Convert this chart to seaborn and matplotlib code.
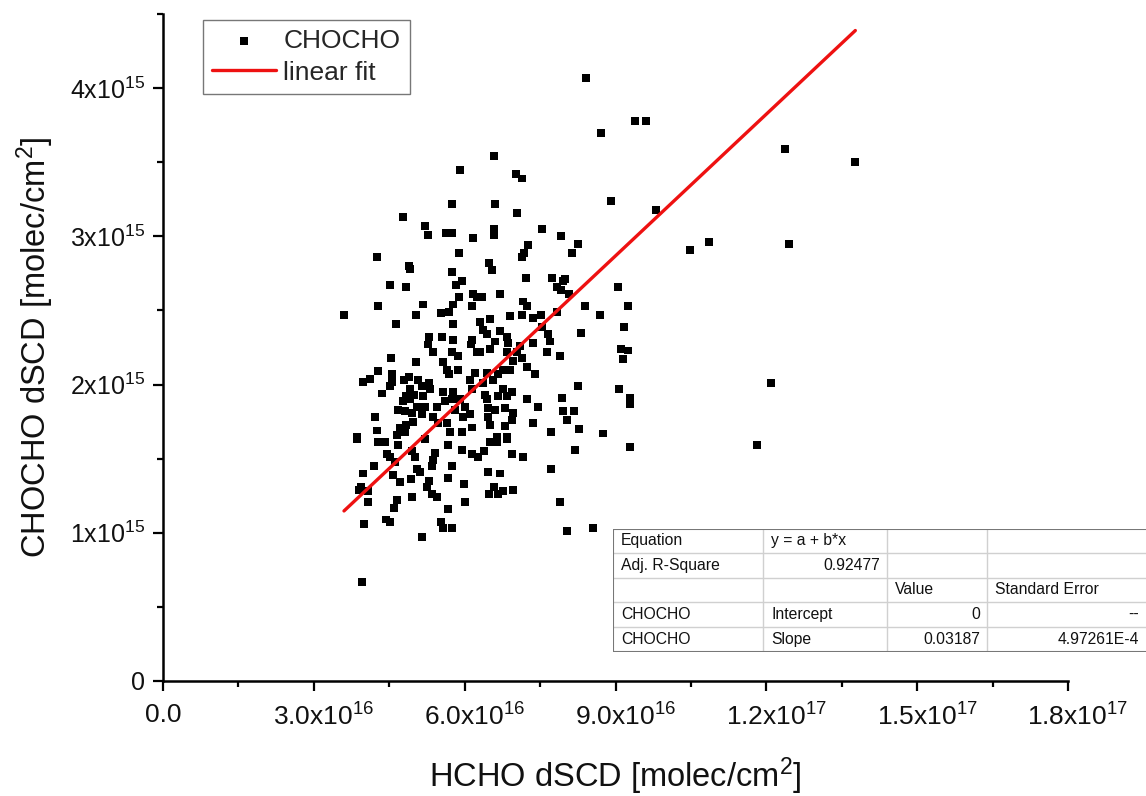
import numpy as np
import pandas as pd
import matplotlib
matplotlib.use("Agg")
import matplotlib.pyplot as plt
import matplotlib.transforms as mtransforms
import seaborn as sns

# ---------------- data (HCHO in 1e16, CHOCHO in 1e15 molec/cm2) ----------------
hcho_e16 = [8.41, 9.39, 9.61, 8.71, 8.91, 9.81, 12.37, 13.77, 10.48, 10.86, 12.45, 8.26, 8.14, 8.00, 8.08,
            9.05, 9.25, 8.39, 7.92, 8.69, 8.32, 9.17, 9.11, 9.25, 9.15, 7.90, 8.26, 9.07, 9.29, 9.29,
            7.94, 7.96, 8.18, 8.04, 8.28, 8.75, 8.20, 9.29, 12.09, 11.82, 7.90, 8.04, 8.55, 7.96, 7.92,
            6.94, 7.16, 7.72, 6.39, 6.50, 6.64, 6.84, 6.47, 6.70, 6.58, 6.49, 6.66, 6.76, 6.96,
            3.86, 4.28, 4.42, 4.67, 5.21, 5.67, 5.95, 6.15, 6.27, 4.46, 4.52, 4.95, 5.01, 4.62, 5.41,
            5.37, 5.35, 5.75, 4.20, 3.98, 4.58, 4.71, 5.05, 5.11, 4.93, 5.29, 5.25, 5.67, 5.99, 3.94,
            3.90, 4.08, 4.08, 4.65, 4.60, 4.95, 5.35, 5.45, 6.01, 5.67, 4.44, 4.52, 4.00, 5.53, 5.57,
            5.75, 5.15, 3.96,
            3.60, 4.28, 5.17, 5.03, 4.63, 5.53, 5.69, 5.77, 6.15, 5.77, 5.55, 5.29, 5.27, 5.37, 5.77,
            5.75, 5.87, 6.15, 6.13, 6.25, 4.54, 5.03, 5.57, 5.65, 5.87, 5.69, 4.28, 4.12, 3.98, 4.56,
            4.56, 4.79, 4.89, 5.07, 5.15, 5.29, 4.52, 5.31, 6.11, 6.21, 5.57, 5.77, 6.15, 4.36, 4.91,
            4.99, 4.83, 5.17, 4.77, 4.91, 5.05, 5.21, 5.45, 5.61, 5.75, 5.91, 5.81, 6.01, 6.11, 5.97,
            4.67, 4.81, 4.95, 5.15, 4.97, 4.83, 4.71, 5.37, 5.47, 5.65, 4.22, 4.26, 3.86, 4.65, 4.81,
            5.71, 5.95, 6.15,
            7.16, 7.24, 6.90, 6.50, 6.31, 7.14, 7.36, 7.52, 7.84, 6.37, 6.45, 6.70, 6.84, 7.54, 7.66,
            7.70, 6.60, 6.50, 6.31, 6.86, 7.10, 7.36, 6.84, 7.04, 7.14, 6.96, 7.64, 7.24, 7.40, 6.90,
            6.76, 6.66, 6.45, 6.56, 6.37, 6.76, 6.94, 6.66, 6.84, 6.41, 6.45, 6.47, 6.60, 6.80, 6.96,
            6.47, 6.94, 6.50, 6.80, 7.24, 7.46, 7.36, 7.72, 6.64, 6.84,
            5.91, 5.75, 4.77, 5.21, 5.27, 5.63, 5.75, 6.17, 5.89, 4.26, 4.89, 4.91, 5.75, 5.95, 5.83,
            4.52, 4.83, 5.89, 6.17, 6.25,
            6.58, 7.02, 7.14, 6.60, 7.04, 6.58, 6.58, 7.54, 7.26, 7.18, 7.14, 6.48, 6.54, 7.22, 7.74,
            7.84, 6.35, 6.70]

chocho_e15 = [4.07, 3.78, 3.78, 3.70, 3.24, 3.18, 3.59, 3.50, 2.91, 2.96, 2.95, 2.95, 2.89, 2.71, 2.61,
              2.66, 2.53, 2.53, 3.00, 2.47, 2.35, 2.39, 2.24, 2.23, 2.17, 2.19, 1.99, 1.97, 1.91, 1.87,
              1.91, 1.82, 1.82, 1.76, 1.70, 1.67, 1.56, 1.58, 2.01, 1.59, 1.21, 1.01, 1.03, 2.70, 2.64,
              1.53, 1.51, 1.43, 1.55, 1.61, 1.61, 1.63, 1.41, 1.40, 1.31, 1.26, 1.26, 1.28, 1.29,
              1.63, 1.61, 1.61, 1.59, 1.63, 1.59, 1.56, 1.53, 1.51, 1.53, 1.51, 1.55, 1.51, 1.48, 1.54,
              1.49, 1.45, 1.45, 1.45, 1.40, 1.39, 1.34, 1.43, 1.41, 1.36, 1.35, 1.31, 1.37, 1.33, 1.31,
              1.29, 1.28, 1.21, 1.22, 1.17, 1.24, 1.26, 1.24, 1.21, 1.16, 1.09, 1.07, 1.06, 1.07, 1.03,
              1.03, 0.97, 0.67,
              2.47, 2.53, 2.54, 2.47, 2.41, 2.48, 2.49, 2.54, 2.53, 2.41, 2.32, 2.32, 2.27, 2.22, 2.30,
              2.22, 2.19, 2.30, 2.27, 2.22, 2.18, 2.15, 2.15, 2.10, 2.10, 2.07, 2.09, 2.04, 2.02, 2.07,
              2.02, 2.03, 2.05, 2.03, 1.99, 2.01, 1.99, 1.97, 2.03, 2.08, 1.95, 1.95, 1.97, 1.94, 1.97,
              1.93, 1.92, 1.92, 1.89, 1.90, 1.85, 1.85, 1.85, 1.89, 1.90, 1.90, 1.83, 1.85, 1.80, 1.78,
              1.83, 1.82, 1.81, 1.80, 1.75, 1.73, 1.71, 1.78, 1.74, 1.74, 1.78, 1.69, 1.65, 1.66, 1.68,
              1.68, 1.68, 1.71,
              2.56, 2.53, 2.46, 2.44, 2.42, 2.47, 2.45, 2.47, 2.49, 2.37, 2.34, 2.36, 2.32, 2.39, 2.34,
              2.29, 2.29, 2.24, 2.22, 2.28, 2.26, 2.28, 2.22, 2.22, 2.18, 2.16, 2.22, 2.12, 2.07, 2.10,
              2.10, 2.07, 2.08, 2.03, 2.01, 1.97, 1.95, 1.92, 1.92, 1.93, 1.90, 1.84, 1.83, 1.84, 1.81,
              1.78, 1.76, 1.73, 1.72, 1.90, 1.85, 1.74, 1.68, 1.65, 1.65,
              3.45, 3.22, 3.13, 3.07, 3.01, 3.02, 3.02, 2.99, 2.89, 2.86, 2.80, 2.78, 2.76, 2.70, 2.67,
              2.67, 2.66, 2.59, 2.61, 2.59,
              3.54, 3.42, 3.39, 3.22, 3.16, 3.05, 3.01, 3.05, 2.94, 2.89, 2.86, 2.82, 2.77, 2.72, 2.72,
              2.66, 2.59, 2.61]

fit_intercept = 0.0
fit_slope = 0.03187
fit_slope_err = "4.97261E-4"
adj_r2 = "0.92477"

x_ticks_e16 = [0, 3, 6, 9, 12, 15, 18]
x_tick_labels = ["0.0", "3.0x10$^{16}$", "6.0x10$^{16}$", "9.0x10$^{16}$",
                 "1.2x10$^{17}$", "1.5x10$^{17}$", "1.8x10$^{17}$"]
y_ticks_e15 = [0, 1, 2, 3, 4]
y_tick_labels = ["0", "1x10$^{15}$", "2x10$^{15}$", "3x10$^{15}$", "4x10$^{15}$"]

# ---------------- styling ----------------
sns.set_theme(style="ticks")
plt.rcParams["font.family"] = ["Liberation Sans", "DejaVu Sans"]
plt.rcParams["mathtext.default"] = "regular"

df = pd.DataFrame({"HCHO": np.array(hcho_e16) * 1e16,
                   "CHOCHO": np.array(chocho_e15) * 1e15})

fig = plt.figure(figsize=(11.46, 7.96), dpi=100)
W, H = 1146, 796
ax = fig.add_axes([163 / W, (H - 681) / H, (1068 - 163) / W, (681 - 14) / H])

sns.scatterplot(data=df, x="HCHO", y="CHOCHO", marker="s", s=32, color="black",
                edgecolor="none", linewidth=0, ax=ax, label="CHOCHO", zorder=3)

xfit = np.array([df["HCHO"].min(), df["HCHO"].max()])
yfit = fit_intercept + fit_slope * xfit
sns.lineplot(x=xfit, y=yfit, color="#ee1111", linewidth=2.4, ax=ax, label="linear fit", zorder=4)

ax.set_xlim(0, 1.8e17)
ax.set_ylim(0, 4.5e15)
ax.set_xticks(np.array(x_ticks_e16) * 1e16)
ax.set_xticklabels(x_tick_labels)
ax.set_yticks(np.array(y_ticks_e15) * 1e15)
ax.set_yticklabels(y_tick_labels)
ax.set_xticks(np.arange(1.5e16, 1.8e17, 3e16), minor=True)
ax.set_yticks(np.arange(0.5e15, 4.6e15, 1e15), minor=True)

for s in ["top", "right"]:
    ax.spines[s].set_visible(False)
for s in ["left", "bottom"]:
    ax.spines[s].set_linewidth(1.8)
    ax.spines[s].set_color("black")
ax.tick_params(axis="both", which="major", direction="out", length=7, width=1.6,
               color="black", labelcolor="#111111")
ax.tick_params(axis="both", which="minor", direction="out", length=4, width=1.6, color="black")
ax.tick_params(axis="x", which="major", pad=9, labelsize=19)
ax.tick_params(axis="y", which="major", pad=6, labelsize=18)

# Origin centres the mantissa under the tick and lets the exponent hang to the right
shift = mtransforms.ScaledTranslation(10 / 100, 0, fig.dpi_scale_trans)
for lab in ax.get_xticklabels()[1:]:
    lab.set_transform(lab.get_transform() + shift)

ax.set_xlabel("HCHO dSCD [molec/cm$^2$]", fontsize=23.5, labelpad=18, color="#111111")
ax.set_ylabel("CHOCHO dSCD [molec/cm$^2$]", fontsize=23.5, labelpad=10, color="#111111")

leg = ax.legend(loc="upper left", bbox_to_anchor=((203 - 163) / 905, (681 - 20) / 667),
                borderaxespad=0, fontsize=19, frameon=True, fancybox=False,
                handlelength=2.4, handletextpad=0.3, borderpad=0.35, labelspacing=0.28,
                markerscale=1.0)
leg.get_frame().set_edgecolor("#555555")
leg.get_frame().set_linewidth(1.0)

# ---------------- fit summary table ----------------
col_px = [613, 763, 887, 987, 1175]
row_px = [529, 553, 578, 602, 627, 652]
tab = fig.add_axes([col_px[0] / W, (H - row_px[-1]) / H,
                    (col_px[-1] - col_px[0]) / W, (row_px[-1] - row_px[0]) / H])
tab.set_xlim(col_px[0], col_px[-1])
tab.set_ylim(row_px[-1], row_px[0])
tab.axis("off")
tab.add_patch(plt.Rectangle((col_px[0], row_px[0]), col_px[-1] - col_px[0],
                            row_px[-1] - row_px[0], facecolor="white", edgecolor="none", zorder=0))
for xv in col_px[1:-1]:
    tab.plot([xv, xv], [row_px[0], row_px[-1]], color="#d0d0d0", lw=1.0)
for yv in row_px[1:-1]:
    tab.plot([col_px[0], col_px[-1]], [yv, yv], color="#d0d0d0", lw=1.0)
tab.plot([col_px[0], col_px[-1]], [row_px[0], row_px[0]], color="#777777", lw=1.5)
tab.plot([col_px[0], col_px[-1]], [row_px[-1], row_px[-1]], color="#777777", lw=1.5)
tab.plot([col_px[0], col_px[0]], [row_px[0], row_px[-1]], color="#777777", lw=1.5)

cells = [
    [("Equation", "l"), ("y = a + b*x", "l"), ("", "l"), ("", "l")],
    [("Adj. R-Square", "l"), (adj_r2, "r"), ("", "l"), ("", "l")],
    [("", "l"), ("", "l"), ("Value", "l"), ("Standard Error", "l")],
    [("CHOCHO", "l"), ("Intercept", "l"), (f"{fit_intercept:g}", "r"), ("--", "r")],
    [("CHOCHO", "l"), ("Slope", "l"), (f"{fit_slope:.5f}", "r"), (fit_slope_err, "r")],
]
right_edges = [col_px[1], col_px[2], col_px[3], 1146]
for r, row in enumerate(cells):
    yc = (row_px[r] + row_px[r + 1]) / 2
    for c, (txt, al) in enumerate(row):
        if not txt:
            continue
        if al == "l":
            tab.text(col_px[c] + 8, yc, txt, ha="left", va="center", fontsize=11.3, color="#111111")
        else:
            tab.text(right_edges[c] - 7, yc, txt, ha="right", va="center", fontsize=11.3, color="#111111")

fig.savefig("out.png", dpi=100, facecolor="white")
